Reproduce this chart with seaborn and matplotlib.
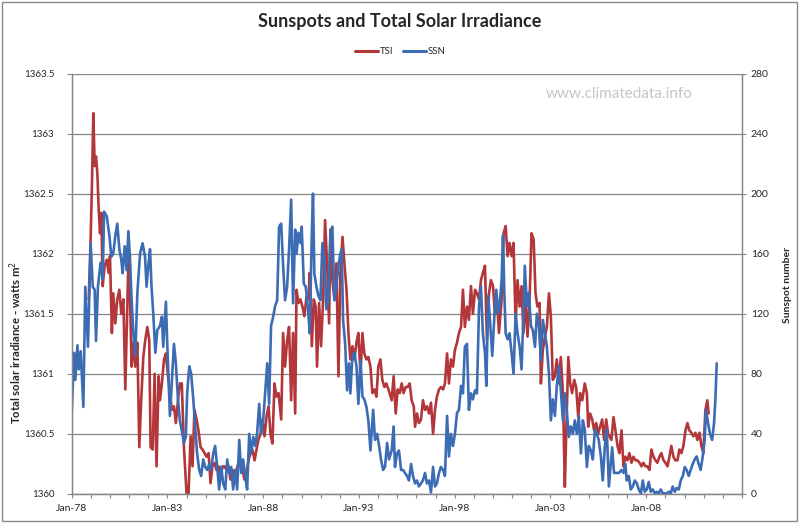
import matplotlib
matplotlib.use("Agg")
import matplotlib.pyplot as plt
from matplotlib.lines import Line2D
from matplotlib.patches import Rectangle
import pandas as pd
import seaborn as sns

# ---------------------------------------------------------------
# Data (decimal years)
# ---------------------------------------------------------------
ssn_year = [
    1978.00, 1978.12, 1978.19, 1978.30, 1978.37, 1978.47, 1978.61, 1978.71, 1978.85, 1978.99,
    1979.10, 1979.20, 1979.27, 1979.37, 1979.51, 1979.62, 1979.69, 1979.83, 1979.97, 1980.07,
    1980.17, 1980.28, 1980.38, 1980.49, 1980.59, 1980.66, 1980.77, 1980.87, 1980.96, 1981.04,
    1981.13, 1981.22, 1981.32, 1981.43, 1981.57, 1981.70, 1981.83, 1981.91, 1982.00, 1982.09,
    1982.17, 1982.26, 1982.37, 1982.47, 1982.61, 1982.71, 1982.78, 1982.92, 1982.99,
    1983.13, 1983.34, 1983.44, 1983.55, 1983.65, 1983.86, 1983.96, 1984.03, 1984.14, 1984.24,
    1984.35, 1984.45, 1984.55, 1984.66, 1984.76, 1984.87, 1984.97, 1985.08, 1985.18, 1985.28,
    1985.39, 1985.49, 1985.60, 1985.70, 1985.81, 1985.91, 1986.02, 1986.12, 1986.22, 1986.33,
    1986.43, 1986.54, 1986.64, 1986.75, 1986.85, 1986.95, 1987.06, 1987.16, 1987.27, 1987.37,
    1987.48, 1987.58, 1987.68, 1987.79, 1987.89, 1988.00, 1988.10, 1988.21, 1988.31, 1988.41,
    1988.52, 1988.62, 1988.73, 1988.83,
    1988.94, 1989.04, 1989.14, 1989.25, 1989.35, 1989.46, 1989.56, 1989.67, 1989.74, 1989.84,
    1989.95, 1990.01, 1990.12, 1990.22, 1990.33, 1990.43, 1990.54, 1990.60, 1990.67, 1990.78,
    1990.88, 1990.99, 1991.09, 1991.20, 1991.30, 1991.40, 1991.51, 1991.61, 1991.72, 1991.82,
    1991.93, 1992.03, 1992.10, 1992.17, 1992.28, 1992.38, 1992.48, 1992.55, 1992.66, 1992.76,
    1992.87, 1992.97, 1993.08, 1993.18, 1993.28, 1993.39, 1993.49, 1993.60, 1993.67, 1993.74,
    1993.84, 1993.95, 1994.05, 1994.15, 1994.26, 1994.36, 1994.47, 1994.57,
    1994.71, 1994.81, 1994.88, 1994.99, 1995.09, 1995.20, 1995.30, 1995.40, 1995.51, 1995.61,
    1995.72, 1995.82, 1995.93, 1996.03, 1996.13, 1996.24, 1996.34, 1996.45, 1996.55, 1996.66,
    1996.76, 1996.87, 1996.97, 1997.07, 1997.18, 1997.28, 1997.39, 1997.49, 1997.60, 1997.70,
    1997.80, 1997.91, 1998.01, 1998.12, 1998.22, 1998.33, 1998.43, 1998.53, 1998.64, 1998.74,
    1998.85, 1998.95, 1999.06, 1999.16, 1999.27, 1999.37, 1999.47, 1999.58, 1999.65, 1999.75,
    1999.86, 1999.96, 2000.07, 2000.17, 2000.27,
    2000.34, 2000.45, 2000.52, 2000.59, 2000.66, 2000.76, 2000.86, 2000.97, 2001.07, 2001.18,
    2001.28, 2001.39, 2001.49, 2001.59, 2001.66, 2001.77, 2001.87, 2001.98, 2002.08, 2002.19,
    2002.29, 2002.39, 2002.50, 2002.60, 2002.71, 2002.81, 2002.92, 2003.02, 2003.12, 2003.23,
    2003.33, 2003.44, 2003.54, 2003.65, 2003.75, 2003.86, 2003.96, 2004.06, 2004.17, 2004.27,
    2004.38, 2004.48, 2004.59, 2004.69, 2004.79, 2004.90, 2005.00, 2005.11, 2005.21, 2005.32,
    2005.42, 2005.52, 2005.63, 2005.73, 2005.84, 2005.94, 2006.05,
    2006.22, 2006.32, 2006.43, 2006.57, 2006.71, 2006.81, 2006.91, 2006.98, 2007.09, 2007.19,
    2007.30, 2007.40, 2007.51, 2007.61, 2007.72, 2007.82, 2007.92, 2008.03, 2008.13, 2008.24,
    2008.34, 2008.45, 2008.55, 2008.65, 2008.76, 2008.86, 2008.97, 2009.07, 2009.18, 2009.28,
    2009.38, 2009.49, 2009.59, 2009.70, 2009.80, 2009.91, 2010.01, 2010.11, 2010.22, 2010.32,
    2010.43, 2010.53, 2010.63, 2010.74, 2010.84, 2010.95, 2011.05, 2011.12, 2011.23, 2011.33,
    2011.44, 2011.54, 2011.61, 2011.68,
]
ssn = [
    52, 94, 76, 99, 83, 95, 58, 138, 98, 167,
    138, 136, 102, 138, 154, 143, 188, 185, 172, 158,
    160, 172, 180, 163, 156, 147, 165, 149, 175, 158,
    129, 107, 92, 134, 160, 167, 158, 138, 152, 163,
    138, 120, 94, 109, 112, 118, 98, 128, 100,
    52, 100, 87, 63, 49, 34, 38, 67, 85, 80,
    63, 45, 27, 16, 12, 23, 18, 16, 20, 16,
    27, 32, 18, 3, 18, 7, 3, 23, 14, 18,
    3, 16, 3, 36, 14, 23, 12, 3, 40, 27,
    38, 32, 40, 60, 40, 49, 67, 87, 60, 112,
    118, 125, 129, 178,
    180, 152, 129, 138, 163, 196, 127, 176, 160, 174,
    167, 178, 140, 138, 125, 107, 174, 200, 147, 138,
    132, 129, 167, 156, 123, 129, 174, 178, 129, 138,
    152, 160, 163, 116, 100, 69, 87, 67, 92, 94,
    85, 60, 89, 65, 63, 58, 49, 29, 43, 56,
    36, 40, 32, 23, 16, 18, 34, 23,
    29, 45, 18, 27, 29, 16, 16, 14, 12, 9,
    20, 12, 7, 9, 5, 7, 9, 14, 7, 9,
    1, 18, 5, 7, 14, 18, 16, 12, 52, 25,
    40, 32, 40, 54, 56, 72, 67, 98, 100, 56,
    67, 63, 69, 67, 125, 138, 107, 94, 72, 132,
    112, 92, 118, 136, 120,
    125, 143, 172, 134, 107, 103, 107, 94, 80, 120,
    107, 98, 83, 120, 152, 125, 134, 112, 109, 98,
    120, 114, 89, 116, 107, 98, 80, 49, 63, 52,
    72, 85, 69, 49, 67, 54, 38, 45, 40, 49,
    40, 52, 27, 49, 43, 18, 32, 29, 23, 43,
    40, 36, 25, 9, 32, 43, 5,
    31, 14, 14, 14, 16, 14, 20, 9, 12, 3,
    5, 9, 7, 3, 0.4, 9, 1.5, 3, 8, 1.5,
    3, 0.4, 1.5, 0.4, 3, 0.4, 0.4, 0.4, 1.5, 0.4,
    5, 1.5, 4, 3, 9, 12, 18, 16, 12, 16,
    20, 23, 25, 20, 16, 25, 36, 56, 47, 40,
    36, 47, 63, 87,
]

tsi_year = [
    1978.89, 1978.99, 1979.06, 1979.13, 1979.20, 1979.27, 1979.34, 1979.41, 1979.48, 1979.55,
    1979.62, 1979.72, 1979.83, 1979.93, 1980.00, 1980.10, 1980.17, 1980.28, 1980.38, 1980.49,
    1980.59, 1980.70, 1980.80, 1980.87, 1980.97, 1981.04, 1981.13, 1981.22, 1981.32, 1981.43,
    1981.53, 1981.63, 1981.74, 1981.84, 1981.95, 1982.05, 1982.12, 1982.23, 1982.33, 1982.43,
    1982.54, 1982.61, 1982.71, 1982.82, 1982.92, 1983.03,
    1983.23, 1983.34, 1983.44, 1983.55, 1983.65, 1983.75, 1983.86, 1984.00, 1984.10, 1984.21,
    1984.31, 1984.41, 1984.52, 1984.62, 1984.73, 1984.83, 1984.94, 1985.04, 1985.15, 1985.25,
    1985.35, 1985.46, 1985.56, 1985.67, 1985.77, 1985.88, 1985.98, 1986.08, 1986.19, 1986.29,
    1986.40, 1986.50, 1986.61, 1986.71, 1986.82, 1986.92, 1987.02, 1987.13, 1987.23, 1987.34,
    1987.44, 1987.55, 1987.65, 1987.75, 1987.86, 1987.96, 1988.07, 1988.17, 1988.28, 1988.38,
    1988.48, 1988.59, 1988.69, 1988.80,
    1988.87, 1988.94, 1989.04, 1989.14, 1989.25, 1989.35, 1989.46, 1989.56, 1989.67, 1989.74,
    1989.84, 1989.94, 1990.05, 1990.15, 1990.26, 1990.36, 1990.43, 1990.54, 1990.64, 1990.74,
    1990.81, 1990.92, 1991.02, 1991.13, 1991.23, 1991.34, 1991.44, 1991.51, 1991.61, 1991.72,
    1991.82, 1991.93, 1992.03, 1992.14, 1992.24, 1992.35, 1992.45, 1992.55, 1992.66, 1992.76,
    1992.87, 1992.97, 1993.08, 1993.18, 1993.28, 1993.39, 1993.49, 1993.60, 1993.70, 1993.81,
    1993.91, 1994.01, 1994.12, 1994.22, 1994.33, 1994.43, 1994.54,
    1994.71, 1994.81, 1994.92, 1995.02, 1995.13, 1995.23, 1995.33, 1995.44, 1995.54, 1995.65,
    1995.75, 1995.86, 1995.93, 1996.03, 1996.13, 1996.24, 1996.34, 1996.45, 1996.55, 1996.66,
    1996.76, 1996.87, 1996.97, 1997.07, 1997.18, 1997.28, 1997.39, 1997.49, 1997.60, 1997.70,
    1997.80, 1997.91, 1998.01, 1998.12, 1998.22, 1998.33, 1998.43, 1998.53, 1998.64, 1998.74,
    1998.85, 1998.95, 1999.06, 1999.16, 1999.27, 1999.37, 1999.47, 1999.58, 1999.68, 1999.79,
    1999.89, 2000.00, 2000.10, 2000.20, 2000.31,
    2000.45, 2000.55, 2000.66, 2000.76, 2000.86, 2000.97, 2001.07, 2001.18, 2001.28, 2001.39,
    2001.49, 2001.59, 2001.70, 2001.80, 2001.91, 2002.01, 2002.12, 2002.22, 2002.32, 2002.43,
    2002.50, 2002.60, 2002.71, 2002.81, 2002.92, 2003.02, 2003.12, 2003.23, 2003.33, 2003.44,
    2003.54, 2003.65, 2003.75, 2003.82, 2003.93, 2004.03, 2004.13, 2004.24, 2004.34, 2004.45,
    2004.55, 2004.66, 2004.79, 2004.90, 2004.97, 2005.07, 2005.18, 2005.28, 2005.39, 2005.49,
    2005.59, 2005.70, 2005.80, 2005.91, 2006.01,
    2006.18, 2006.29, 2006.39, 2006.50, 2006.60, 2006.71, 2006.81, 2006.91, 2007.02, 2007.12,
    2007.23, 2007.33, 2007.44, 2007.54, 2007.65, 2007.75, 2007.85, 2007.96, 2008.06, 2008.17,
    2008.27, 2008.38, 2008.48, 2008.58, 2008.69, 2008.79, 2008.90, 2009.00, 2009.11, 2009.21,
    2009.31, 2009.42, 2009.52, 2009.63, 2009.73, 2009.84, 2009.94, 2010.05, 2010.15, 2010.25,
    2010.36, 2010.46, 2010.57, 2010.67, 2010.78, 2010.88, 2010.98, 2011.09, 2011.19, 2011.26,
]
tsi = [
    1361.62, 1362.12, 1362.59, 1363.17, 1362.73, 1362.81, 1362.67, 1362.37, 1362.17, 1362.34,
    1361.73, 1361.90, 1361.95, 1361.84, 1361.98, 1361.34, 1361.67, 1361.42, 1361.62, 1361.70,
    1361.50, 1361.62, 1360.87, 1361.34, 1362.00, 1361.67, 1361.06, 1361.26, 1361.06, 1361.26,
    1360.39, 1360.78, 1361.14, 1361.28, 1361.39, 1361.28, 1360.39, 1360.37, 1361.00, 1360.23,
    1360.98, 1360.78, 1360.92, 1361.12, 1361.17, 1360.98,
    1360.70, 1360.73, 1360.59, 1360.78, 1360.92, 1360.92, 1360.39, 1360.00, 1360.00, 1360.48,
    1360.23, 1360.70, 1360.62, 1360.53, 1360.39, 1360.37, 1360.34, 1360.31, 1360.34, 1360.09,
    1360.23, 1360.26, 1360.20, 1360.23, 1360.14, 1360.23, 1360.23, 1360.20, 1360.23, 1360.12,
    1360.20, 1360.14, 1360.20, 1360.26, 1360.23, 1360.20, 1360.12, 1360.17, 1360.28, 1360.34,
    1360.37, 1360.28, 1360.37, 1360.45, 1360.50, 1360.62, 1360.48, 1360.64, 1360.73, 1360.50,
    1360.42, 1360.92, 1360.81, 1360.84,
    1360.73, 1360.62, 1361.34, 1361.06, 1361.28, 1361.39, 1360.78, 1361.34, 1360.67, 1361.70,
    1361.59, 1361.62, 1361.56, 1361.48, 1361.64, 1361.62, 1361.84, 1361.23, 1361.62, 1361.56,
    1361.06, 1361.59, 1361.23, 1361.62, 1362.28, 1361.90, 1361.42, 1362.20, 1361.78, 1361.62,
    1361.92, 1360.98, 1361.84, 1362.14, 1361.92, 1361.70, 1361.34, 1361.12, 1361.23, 1361.12,
    1361.26, 1361.34, 1361.00, 1361.34, 1361.17, 1361.12, 1361.14, 1361.06, 1360.84, 1360.87,
    1360.81, 1361.06, 1361.12, 1360.95, 1360.89, 1360.92, 1360.87,
    1360.78, 1360.98, 1360.67, 1360.87, 1360.84, 1360.92, 1360.84, 1360.89, 1360.89, 1360.92,
    1360.78, 1360.73, 1360.56, 1360.67, 1360.59, 1360.62, 1360.78, 1360.70, 1360.73, 1360.67,
    1360.76, 1360.50, 1360.70, 1360.81, 1360.87, 1360.89, 1360.87, 1360.92, 1361.17, 1360.92,
    1361.12, 1361.06, 1361.20, 1361.26, 1361.34, 1361.39, 1361.70, 1361.39, 1361.56, 1361.45,
    1361.73, 1361.50, 1361.70, 1361.67, 1361.62, 1361.78, 1361.84, 1361.90, 1361.28, 1361.67,
    1361.78, 1361.73, 1361.50, 1361.62, 1361.34,
    1361.62, 1362.17, 1362.23, 1361.98, 1362.09, 1361.98, 1362.09, 1361.42, 1361.78, 1361.56,
    1361.73, 1361.34, 1361.62, 1361.31, 1361.62, 1362.17, 1362.12, 1361.67, 1361.56, 1361.59,
    1360.92, 1361.20, 1361.31, 1361.39, 1361.67, 1361.48, 1360.95, 1360.98, 1361.12, 1360.92,
    1361.14, 1360.84, 1360.06, 1360.50, 1361.14, 1360.92, 1360.84, 1360.95, 1360.89, 1360.64,
    1360.84, 1360.78, 1360.92, 1360.84, 1360.56, 1360.67, 1360.62, 1360.53, 1360.59, 1360.50,
    1360.56, 1360.62, 1360.45, 1360.62, 1360.50,
    1360.45, 1360.64, 1360.53, 1360.40, 1360.34, 1360.53, 1360.23, 1360.31, 1360.28, 1360.34,
    1360.26, 1360.31, 1360.28, 1360.28, 1360.26, 1360.23, 1360.26, 1360.23, 1360.23, 1360.20,
    1360.37, 1360.31, 1360.28, 1360.26, 1360.31, 1360.34, 1360.28, 1360.26, 1360.23, 1360.31,
    1360.40, 1360.31, 1360.28, 1360.28, 1360.37, 1360.34, 1360.40, 1360.53, 1360.59, 1360.53,
    1360.51, 1360.48, 1360.51, 1360.45, 1360.51, 1360.40, 1360.34, 1360.70, 1360.78, 1360.67,
]

x_tick_years = [1978, 1983, 1988, 1993, 1998, 2003, 2008]
x_tick_labels = ["Jan-78", "Jan-83", "Jan-88", "Jan-93", "Jan-98", "Jan-03", "Jan-08"]
tsi_ticks = [1360, 1360.5, 1361, 1361.5, 1362, 1362.5, 1363, 1363.5]
tsi_tick_labels = ["1360", "1360.5", "1361", "1361.5", "1362", "1362.5", "1363", "1363.5"]
ssn_ticks = [0, 40, 80, 120, 160, 200, 240, 280]

RED = "#b3373a"
BLUE = "#3c6cb4"
GREY = "#868686"

df_tsi = pd.DataFrame({"year": tsi_year, "tsi": tsi})
df_ssn = pd.DataFrame({"year": ssn_year, "ssn": ssn})

sns.set_style("white")
plt.rcParams["font.family"] = ["Lato", "DejaVu Sans"]

fig = plt.figure(figsize=(8, 5.24), dpi=100)
ax = fig.add_axes([0.0896, 0.0573, 0.9275 - 0.0896, 0.8597 - 0.0573])
ax2 = ax.twinx()

sns.lineplot(data=df_tsi, x="year", y="tsi", ax=ax, color=RED, linewidth=1.9, legend=False)
sns.lineplot(data=df_ssn, x="year", y="ssn", ax=ax2, color=BLUE, linewidth=1.9, legend=False)

ax.set_xlim(1978, 2013)
ax.set_ylim(1360, 1363.5)
ax2.set_ylim(0, 280)

ax.set_xticks(x_tick_years)
ax.set_xticklabels(x_tick_labels)
ax.set_xticks(range(1978, 2014), minor=True)
ax.set_yticks(tsi_ticks)
ax.set_yticklabels(tsi_tick_labels)
ax2.set_yticks(ssn_ticks)
ax2.set_yticklabels([str(v) for v in ssn_ticks])

ax.grid(axis="y", color=GREY, linewidth=0.9)
ax.set_axisbelow(True)
ax2.grid(False)

for a in (ax, ax2):
    a.spines["top"].set_visible(False)
    for side in ("left", "right", "bottom"):
        a.spines[side].set_color(GREY)
        a.spines[side].set_linewidth(0.9)

ax.tick_params(axis="x", which="both", direction="out", length=2.9, width=0.8, color=GREY,
               labelsize=7.5, pad=4, bottom=True)
ax.tick_params(axis="x", which="minor", labelbottom=False)
ax.tick_params(axis="y", direction="out", length=3.6, width=0.8, color=GREY, labelsize=7,
               pad=9, left=True)
ax2.tick_params(axis="y", direction="out", length=2.9, width=0.8, color=GREY, labelsize=7.5,
                pad=3.5, right=True)

ax.set_xlabel("")
ax.set_ylabel("")
ax2.set_ylabel("")

fig.text(16 / 800, 1 - 342 / 524, "Total solar irradiance - watts m$^{2}$", rotation=90,
         ha="center", va="center", fontsize=8.2, fontweight="bold")
fig.text(788 / 800, 1 - 285 / 524, "Sunspot number", rotation=90,
         ha="center", va="center", fontsize=7.5, fontweight="bold")

fig.text(0.5, 1 - 22 / 524, "Sunspots and Total Solar Irradiance",
         ha="center", va="center", fontsize=13, fontweight="bold")

fig.text(619 / 800, 1 - 94 / 524, "www.climatedata.info", ha="center", va="center",
         fontsize=11, color="#c9c2cb")

handles = [Line2D([], [], color=RED, linewidth=2.2), Line2D([], [], color=BLUE, linewidth=2.2)]
fig.legend(handles, ["TSI", "SSN"], loc="center", bbox_to_anchor=(0.5, 1 - 52 / 524),
           ncol=2, frameon=False, fontsize=7, handlelength=2.4, handletextpad=0.15,
           columnspacing=1.0)

fig.patches.append(Rectangle((0.0025, 0.0048), 0.99375, 0.9914, transform=fig.transFigure,
                             fill=False, edgecolor=GREY, linewidth=1.0))

fig.savefig("out.png", dpi=100)
